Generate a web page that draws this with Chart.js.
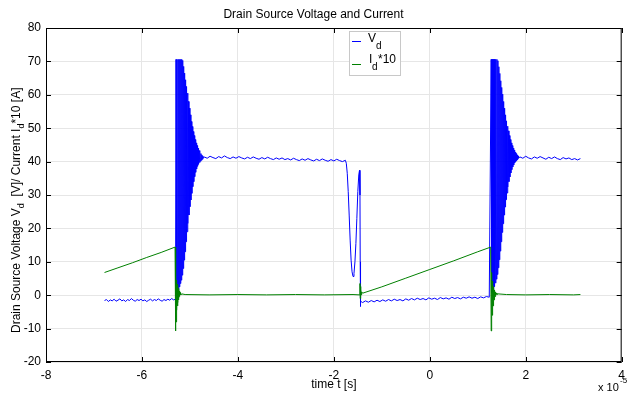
<!DOCTYPE html>
<html>
<head>
<meta charset="utf-8">
<script src="https://cdn.jsdelivr.net/npm/chart.js@4.4.1/dist/chart.umd.min.js"></script>
<style>
html,body{margin:0;padding:0;background:#fff;}
#wrap{width:631px;height:394px;}
</style>
</head>
<body>
<div id="wrap"><canvas id="c" width="631" height="394"></canvas></div>
<script>
// ---- Data (time in units of 1e-5 s) ----
const chartTitle = 'Drain Source Voltage and Current';
const xTitle = 'time t [s]';
const xTicks = [-8, -6, -4, -2, 0, 2, 4];
const yTicks = [-20, -10, 0, 10, 20, 30, 40, 50, 60, 70, 80];

// V_d : low level before first switching
const vdLow1T = [-6.78,-6.74,-6.70,-6.66,-6.62,-6.58,-6.54,-6.50,-6.46,-6.42,-6.38,-6.34,-6.30,-6.26,-6.22,-6.18,-6.14,-6.10,-6.06,-6.02,-5.98,-5.94,-5.90,-5.86,-5.82,-5.78,-5.74,-5.70,-5.66,-5.62,-5.58,-5.54,-5.50,-5.46,-5.42,-5.38,-5.34,-5.30];
const vdLow1V = [-1.6,-1.3,-1.9,-1.4,-1.7,-1.2,-1.8,-1.5,-1.1,-1.7,-1.4,-1.9,-1.3,-1.6,-1.0,-1.5,-1.8,-1.3,-1.6,-1.2,-1.7,-1.4,-1.9,-1.5,-1.2,-1.7,-1.3,-1.6,-1.1,-1.5,-1.8,-1.3,-1.6,-1.2,-1.5,-1.0,-1.4,-1.2];

// V_d : ringing at first turn-off
const vdRing1T = [-5.29,-5.28,-5.27,-5.26,-5.25,-5.24,-5.23,-5.22,-5.21,-5.20,-5.19,-5.18,-5.17,-5.16,-5.15,-5.14,-5.13,-5.12,-5.11,-5.10,-5.09,-5.08,-5.07,-5.06,-5.05,-5.04,-5.03,-5.02,-5.01,-5.00,-4.99,-4.98,-4.97,-4.96,-4.95,-4.94,-4.93,-4.92,-4.91,-4.90,-4.89,-4.88,-4.87,-4.86,-4.85,-4.84,-4.83,-4.82,-4.81,-4.80,-4.79,-4.78,-4.77,-4.76,-4.75,-4.74,-4.73,-4.72];
const vdRing1V = [70.6,0.5,70.6,1,70.6,1.5,70.6,2.5,70.6,3.5,70.6,4.5,70.6,6,70.3,8,68.5,10.5,66.5,13,64.5,16,62.5,19,60.5,21.5,58,24,56,26.5,54,28.5,52,30.5,50.5,32.5,49,34,47.8,35.5,46.6,36.8,45.6,37.8,44.8,38.6,44,39.2,43.3,39.7,42.8,40.1,42.4,40.4,42,40.7,41.7,41];

// V_d : plateau after first turn-off
const vdPlat1T = [-4.70,-4.64,-4.58,-4.52,-4.46,-4.40,-4.34,-4.28,-4.22,-4.16,-4.10,-4.04,-3.98,-3.92,-3.86,-3.80,-3.74,-3.68,-3.62,-3.56,-3.50,-3.44,-3.38,-3.32,-3.26,-3.20,-3.14,-3.08,-3.02,-2.96,-2.90,-2.84,-2.78,-2.72,-2.66,-2.60,-2.54,-2.48,-2.42,-2.36,-2.30,-2.24,-2.18,-2.12,-2.06,-2.00,-1.94,-1.88,-1.82,-1.76];
const vdPlat1V = [41.4,41.0,41.6,41.2,40.9,41.5,41.1,41.7,41.2,40.9,41.4,41.0,41.5,41.1,40.8,41.3,40.9,41.4,41.0,40.7,41.2,40.8,41.3,40.9,40.6,41.1,40.7,41.1,40.6,40.9,40.5,41.0,40.6,40.3,40.8,40.4,40.9,40.5,40.2,40.7,40.3,40.8,40.4,40.1,40.6,40.2,40.7,40.3,40.0,40.4];

// V_d : dip before turn-on
const vdDipT = [-1.74,-1.72,-1.70,-1.68,-1.66,-1.64,-1.62,-1.60,-1.58,-1.56,-1.54,-1.52,-1.50,-1.48,-1.465,-1.455,-1.45,-1.447,-1.44];
const vdDipV = [39.5,36.5,31,24,16.5,10.5,7,5.6,6.5,10,15.5,23,31,36,37.4,30,10,-3.4,-1.8];

// V_d : low level during conduction
const vdLow2T = [-1.40,-1.34,-1.28,-1.22,-1.16,-1.10,-1.04,-0.98,-0.92,-0.86,-0.80,-0.74,-0.68,-0.62,-0.56,-0.50,-0.44,-0.38,-0.32,-0.26,-0.20,-0.14,-0.08,-0.02,0.04,0.10,0.16,0.22,0.28,0.34,0.40,0.46,0.52,0.58,0.64,0.70,0.76,0.82,0.88,0.94,1.00,1.06,1.12,1.18,1.24];
const vdLow2V = [-2.2,-1.7,-2.1,-1.6,-2.0,-1.5,-1.9,-1.4,-1.8,-1.3,-1.7,-1.2,-1.6,-1.3,-1.7,-1.1,-1.5,-1.0,-1.4,-0.9,-1.3,-1.0,-1.4,-0.8,-1.2,-0.9,-1.3,-0.7,-1.1,-0.8,-1.2,-0.6,-1.0,-0.7,-1.1,-0.6,-0.9,-0.5,-0.9,-0.6,-1.0,-0.5,-0.8,-0.4,-0.6];

// V_d : ringing at second turn-off
const vdRing2T = [1.28,1.29,1.30,1.31,1.32,1.33,1.34,1.35,1.36,1.37,1.38,1.39,1.40,1.41,1.42,1.43,1.44,1.45,1.46,1.47,1.48,1.49,1.50,1.51,1.52,1.53,1.54,1.55,1.56,1.57,1.58,1.59,1.60,1.61,1.62,1.63,1.64,1.65,1.66,1.67,1.68,1.69,1.70,1.71,1.72,1.73,1.74,1.75,1.76,1.77,1.78,1.79,1.80,1.81,1.82,1.83,1.84,1.85];
const vdRing2V = [70.6,0.8,70.6,1.2,70.6,1.8,70.6,2.6,70.6,3.6,70.6,4.8,70.6,6.2,70.2,8.2,68.4,10.6,66.4,13.2,64.2,16,62.2,18.8,60.2,21.4,58,24,56,26.4,54,28.6,52.2,30.6,50.6,32.4,49.2,34,47.8,35.4,46.6,36.6,45.6,37.6,44.8,38.4,44,39,43.4,39.6,42.8,40,42.4,40.3,42,40.6,41.7,41];

// V_d : plateau after second turn-off
const vdPlat2T = [1.88,1.94,2.00,2.06,2.12,2.18,2.24,2.30,2.36,2.42,2.48,2.54,2.60,2.66,2.72,2.78,2.84,2.90,2.96,3.02,3.08,3.14];
const vdPlat2V = [41.4,41.0,41.6,41.1,40.8,41.4,41.0,41.5,41.1,40.7,41.3,40.9,41.4,40.9,40.6,41.2,40.8,41.1,40.6,40.9,40.5,40.9];

// I_d*10 : first ramp
const idRamp1T = [-6.78,-6.50,-6.20,-5.90,-5.60,-5.31];
const idRamp1V = [6.8,8.2,9.7,11.3,12.8,14.4];
// I_d*10 : ringing at first turn-off
const idRing1T = [-5.30,-5.295,-5.29,-5.285,-5.28,-5.275,-5.27,-5.265,-5.26,-5.255,-5.25,-5.245,-5.24,-5.235,-5.23,-5.225,-5.22,-5.215,-5.21,-5.205,-5.20,-5.19,-5.18,-5.17];
const idRing1V = [-10.7,5.6,-8,4.5,-6,3.8,-4.5,3.2,-3.2,2.6,-2.2,2.0,-1.4,1.6,-0.8,1.3,-0.4,1.0,-0.1,0.8,0.1,0.6,0.2,0.4];
// I_d*10 : off state
const idOff1T = [-5.10,-4.60,-4.00,-3.40,-2.80,-2.20,-1.60,-1.47];
const idOff1V = [0.2,0.1,0.2,0.1,0.2,0.1,0.2,0.1];
// I_d*10 : turn-on ringing and second ramp
const idRamp2T = [-1.455,-1.45,-1.445,-1.44,-1.435,-1.43,-1.42,-1.40,-1.00,-0.50,0.00,0.50,1.00,1.27];
const idRamp2V = [3.5,-1.0,2.6,-0.4,1.8,0.1,1.0,0.6,2.5,5.1,7.7,10.3,13.0,14.4];
// I_d*10 : ringing at second turn-off
const idRing2T = [1.28,1.285,1.29,1.295,1.30,1.305,1.31,1.315,1.32,1.325,1.33,1.335,1.34,1.345,1.35,1.355,1.36,1.365,1.37,1.375,1.38,1.39,1.40,1.42];
const idRing2V = [-10.7,6.8,-8,5.2,-6,4.2,-4.4,3.4,-3.2,2.6,-2.2,2.0,-1.4,1.6,-0.8,1.2,-0.4,1.0,-0.1,0.8,0.1,0.6,0.2,0.4];
// I_d*10 : off state after second turn-off
const idOff2T = [1.60,2.00,2.50,3.00,3.14];
const idOff2V = [0.2,0.1,0.2,0.1,0.2];

// ---- build datasets ----
function pts(T, V) { return T.map((t, i) => ({ x: t, y: V[i] })); }
const vdData = [].concat(pts(vdLow1T, vdLow1V), pts(vdRing1T, vdRing1V), pts(vdPlat1T, vdPlat1V),
  pts(vdDipT, vdDipV), pts(vdLow2T, vdLow2V), pts(vdRing2T, vdRing2V), pts(vdPlat2T, vdPlat2V));
const idData = [].concat(pts(idRamp1T, idRamp1V), pts(idRing1T, idRing1V), pts(idOff1T, idOff1V),
  pts(idRamp2T, idRamp2V), pts(idRing2T, idRing2V), pts(idOff2T, idOff2V));

const FONT = '"Liberation Sans", Arial, Helvetica, sans-serif';
const BLUE = '#0000ff', GREEN = '#008000';

const decor = {
  id: 'decor',
  afterDraw(chart) {
    const { ctx, chartArea: a, scales } = chart;
    const xs = scales.x, ys = scales.y;
    ctx.save();
    // axes box
    ctx.strokeStyle = '#000';
    ctx.lineWidth = 1;
    ctx.strokeRect(a.left + 0.5, a.top + 0.5, a.right - a.left - 1, a.bottom - a.top - 1);
    // inside tick marks
    ctx.beginPath();
    xTicks.forEach(v => {
      const p = Math.round(xs.getPixelForValue(v)) + 0.5;
      ctx.moveTo(p, a.bottom); ctx.lineTo(p, a.bottom - 5);
      ctx.moveTo(p, a.top); ctx.lineTo(p, a.top + 5);
    });
    yTicks.forEach(v => {
      const p = Math.round(ys.getPixelForValue(v)) + 0.5;
      ctx.moveTo(a.left, p); ctx.lineTo(a.left + 5, p);
      ctx.moveTo(a.right, p); ctx.lineTo(a.right - 5, p);
    });
    ctx.stroke();

    // legend
    ctx.fillStyle = '#fff';
    ctx.fillRect(349, 31, 51, 44);
    ctx.strokeStyle = '#c8c8c8';
    ctx.strokeRect(349.5, 31.5, 51, 44);
    ctx.lineWidth = 1;
    ctx.strokeStyle = BLUE;
    ctx.beginPath(); ctx.moveTo(352, 41.5); ctx.lineTo(361, 41.5); ctx.stroke();
    ctx.strokeStyle = GREEN;
    ctx.beginPath(); ctx.moveTo(352, 64.5); ctx.lineTo(361, 64.5); ctx.stroke();
    ctx.fillStyle = '#000';
    ctx.textBaseline = 'alphabetic';
    ctx.textAlign = 'left';
    ctx.font = '12px ' + FONT;
    ctx.fillText('V', 368, 42);
    ctx.fillText('I', 369, 63);
    ctx.font = '10px ' + FONT;
    ctx.fillText('d', 376, 49);
    ctx.fillText('d', 372, 70);
    ctx.font = '12px ' + FONT;
    ctx.fillText('*10', 378, 63);

    // y axis title with subscripts
    ctx.save();
    ctx.translate(20, 333);
    ctx.rotate(-Math.PI / 2);
    let x = 0;
    const parts = [['Drain Source Voltage V', 0], ['d', 1], ['  [V]/ Current I', 0], ['d', 1], ['*10 [A]', 0]];
    parts.forEach(([s, sub]) => {
      ctx.font = (sub ? '9px ' : '12px ') + FONT;
      ctx.fillText(s, x, sub ? 4 : 0);
      x += ctx.measureText(s).width;
    });
    ctx.restore();

    // x exponent
    ctx.font = '11px ' + FONT;
    ctx.fillText('x 10', 598, 391);
    ctx.font = '8px ' + FONT;
    ctx.fillText('-5', 620, 383);
    ctx.restore();
  }
};

new Chart(document.getElementById('c'), {
  type: 'line',
  data: {
    datasets: [
      { label: 'I_d*10', data: idData, borderColor: GREEN, borderWidth: 1, pointRadius: 0, order: 0 },
      { label: 'V_d', data: vdData, borderColor: BLUE, borderWidth: 1, pointRadius: 0, order: 1 }
    ]
  },
  options: {
    responsive: false,
    animation: false,
    events: [],
    layout: { padding: { left: 0, right: 4, top: 0, bottom: 0 } },
    elements: { line: { tension: 0 }, point: { radius: 0 } },
    plugins: {
      legend: { display: false },
      tooltip: { enabled: false },
      title: {
        display: true, text: chartTitle, color: '#000',
        font: { family: FONT, size: 12, weight: 'normal', lineHeight: 1.2 },
        padding: { top: 7, bottom: 6.6 }
      }
    },
    scales: {
      x: {
        type: 'linear', min: -8, max: 4,
        afterBuildTicks(s) { s.ticks = xTicks.map(v => ({ value: v })); },
        ticks: { color: '#000', font: { family: FONT, size: 12 }, padding: 6, maxRotation: 0, autoSkip: false },
        grid: { color: '#e6e6e6', drawTicks: false },
        border: { display: false },
        title: { display: true, text: xTitle, color: '#000', font: { family: FONT, size: 12 }, padding: { top: 0, bottom: 2 } },
        afterFit(s) { s.height = 32; }
      },
      y: {
        type: 'linear', min: -20, max: 80,
        afterBuildTicks(s) { s.ticks = yTicks.map(v => ({ value: v })); },
        ticks: { color: '#000', font: { family: FONT, size: 12 }, padding: 5, autoSkip: false },
        grid: { color: '#e6e6e6', drawTicks: false },
        border: { display: false },
        afterFit(s) { s.width = 46; }
      }
    }
  },
  plugins: [decor]
});
</script>
</body>
</html>
